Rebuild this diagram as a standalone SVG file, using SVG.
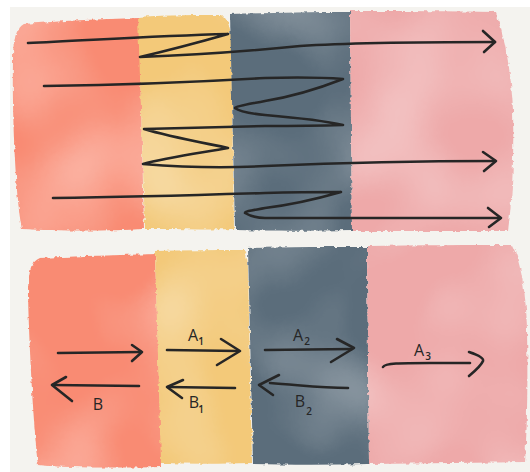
<svg xmlns="http://www.w3.org/2000/svg" width="530" height="472" viewBox="0 0 530 472">
  <defs>
    <filter id="wc" x="-4%" y="-4%" width="108%" height="108%" color-interpolation-filters="sRGB">
      <feTurbulence type="fractalNoise" baseFrequency="0.009" numOctaves="2" seed="11" result="t"/>
      <feColorMatrix in="t" type="matrix" values="0 0 0 0 1  0 0 0 0 1  0 0 0 0 1  0.8 0 0 0 -0.34" result="w"/>
      <feGaussianBlur in="w" stdDeviation="4" result="wb"/>
      <feComposite in="wb" in2="SourceAlpha" operator="in" result="wm"/>
      <feMerge result="m"><feMergeNode in="SourceGraphic"/><feMergeNode in="wm"/></feMerge>
      <feTurbulence type="fractalNoise" baseFrequency="0.2" numOctaves="2" seed="3" result="e"/>
      <feDisplacementMap in="m" in2="e" scale="4" xChannelSelector="R" yChannelSelector="G" result="d"/>
      <feGaussianBlur in="d" stdDeviation="0.5"/>
    </filter>
    <style>
      .red { fill: #f98b73; }
      .yel { fill: #f3c979; }
      .dark { fill: #5b6d7b; }
      .pink { fill: #eea9a9; }
      .band { filter: url(#wc); }
      .ln { fill: none; stroke: #262626; stroke-width: 2.6; stroke-linecap: round; stroke-linejoin: round; }
      .lbl { font-family: "Open Sans", "DejaVu Sans", sans-serif; font-size: 16px; fill: #262626; text-anchor: middle; }
      .sub { font-size: 10px; font-weight: 600; }
    </style>
  </defs>

  <rect x="0" y="0" width="530" height="472" fill="#ffffff"/>
  <rect x="10" y="7" width="520" height="465" fill="#f4f3ef"/>

  <!-- top panel bands -->
  <g id="top-red" class="band"><path class="red" d="M24,24 C60,21 100,19 139,18 L144,229 C110,231 60,231 22,229 C16,200 12,120 13,60 C13,40 16,28 24,24 Z"/></g>
  <g id="top-yellow" class="band"><path class="yel" d="M138,17 C170,15 200,15 222,15 C228,20 231,28 231,40 L234,229 C200,230 170,229 145,229 Z"/></g>
  <g id="top-dark" class="band"><path class="dark" d="M230,14 C270,13 310,12 350,12 L352,230 C310,231 270,231 235,230 Z"/></g>
  <g id="top-pink" class="band"><path class="pink" d="M350,11 C400,11 450,11 496,12 C505,40 511,70 513,110 C514,160 512,200 508,231 L352,231 Z"/></g>

  <!-- bottom panel bands -->
  <g id="bot-red" class="band"><path class="red" d="M40,258 C80,256 120,255 155,254 L162,467 C120,468 70,468 38,465 C33,420 29,340 28,295 C28,270 32,261 40,258 Z"/></g>
  <g id="bot-yellow" class="band"><path class="yel" d="M155,251 C185,250 215,250 244,250 C247,256 248,262 248,270 L252,463 C220,464 190,464 161,463 Z"/></g>
  <g id="bot-dark" class="band"><path class="dark" d="M248,248 C290,247 330,247 367,247 L369,464 C330,465 290,465 253,464 Z"/></g>
  <g id="bot-pink" class="band"><path class="pink" d="M367,246 C420,245 470,245 512,245 C520,260 526,290 527,330 C528,380 527,430 525,462 L369,464 Z"/></g>

  <!-- connectors -->
  <g id="connectors">
    <path class="ln" d="M28,43 C80,41 150,36 228,34 C200,42 170,50 140,57 C200,55 250,51 300,46 C360,42 430,42 495,42"/>
    <path class="ln" d="M483,31 L495,42 L484,52"/>

    <path class="ln" d="M44,86 C120,85 200,82 265,78 C300,77 330,78 343,79 C320,88 290,97 265,101 C250,104 236,106 235,108 C240,112 255,114 265,115 C300,118 330,122 343,125 C310,126 290,126 265,126 C220,127 180,128 144,129 C170,137 210,144 228,148 C200,153 165,158 143,164 C180,167 230,168 265,166 C360,162 430,161 495,161"/>
    <path class="ln" d="M483,152 L496,161 L484,171"/>

    <path class="ln" d="M53,198 C130,197 200,195 265,193 C300,192 330,192 341,192 C320,198 290,205 265,208 C255,210 245,211 245,213 C250,216 258,218 265,218 C350,218 430,218 500,218"/>
    <path class="ln" d="M488,208 L501,218 L489,227"/>

    <path class="ln" d="M58,353 L141,352"/>
    <path class="ln" d="M132,345 L142,352 L132,361"/>
    <path class="ln" d="M139,386 L53,385"/>
    <path class="ln" d="M66,377 L52,385 L72,401"/>

    <path class="ln" d="M167,350 L238,351"/>
    <path class="ln" d="M221,339 L240,351 L217,365"/>
    <path class="ln" d="M235,388 L168,387"/>
    <path class="ln" d="M183,380 L167,387 L182,398"/>

    <path class="ln" d="M265,350 L352,349"/>
    <path class="ln" d="M337,339 L354,348 L331,362"/>
    <path class="ln" d="M348,388 C320,388 300,385 270,383"/>
    <path class="ln" d="M279,375 L259,385 L273,395"/>

    <path class="ln" d="M383,367 C385,363 400,363 430,363 L470,363"/>
    <path class="ln" d="M469,352 C478,355 484,358 483,361 C481,366 475,371 469,376"/>
  </g>

  <!-- labels -->
  <g id="labels">
    <text class="lbl" x="98" y="410">B</text>
    <text class="lbl" x="193" y="341">A</text><text class="lbl sub" x="201" y="345">1</text>
    <text class="lbl" x="194" y="408">B</text><text class="lbl sub" x="201" y="413">1</text>
    <text class="lbl" x="298" y="341">A</text><text class="lbl sub" x="307" y="345">2</text>
    <text class="lbl" x="300" y="407">B</text><text class="lbl sub" x="309" y="415">2</text>
    <text class="lbl" x="419" y="356">A</text><text class="lbl sub" x="428" y="360">3</text>
  </g>
</svg>
